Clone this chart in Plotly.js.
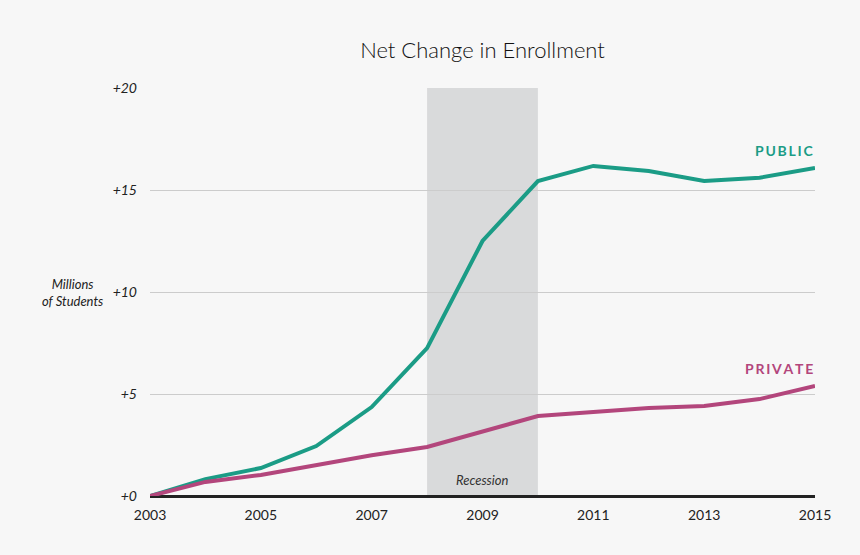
<!DOCTYPE html>
<html>
<head>
<meta charset="utf-8">
<script src="https://cdn.plot.ly/plotly-3.0.1.min.js"></script>
<style>html,body{margin:0;padding:0;background:#f7f7f7;}</style>
</head>
<body>
<div id="chart" style="width:860px;height:555px;"></div>
<script>
const years = [2003, 2004, 2005, 2006, 2007, 2008, 2009, 2010, 2011, 2012, 2013, 2014, 2015];
const publicVals = [0, 0.83, 1.37, 2.45, 4.36, 7.25, 12.5, 15.44, 16.18, 15.93, 15.44, 15.6, 16.08];
const privateVals = [0, 0.69, 1.03, 1.52, 2.0, 2.4, 3.14, 3.92, 4.12, 4.31, 4.41, 4.75, 5.39];
const xTicks = [2003, 2005, 2007, 2009, 2011, 2013, 2015];
const yTicks = [0, 5, 10, 15, 20];
const yTickLabels = ['+0', '+5', '+10', '+15', '+20'];
const recession = [2008, 2010];

const font = 'Lato, "Open Sans", sans-serif';
const teal = '#1b9c86';
const magenta = '#b3467c';

const traces = [
  {x: years, y: publicVals, type: 'scatter', mode: 'lines', line: {color: teal, width: 4}, cliponaxis: false, hoverinfo: 'skip'},
  {x: years, y: privateVals, type: 'scatter', mode: 'lines', line: {color: magenta, width: 4}, cliponaxis: false, hoverinfo: 'skip'}
];

const layout = {
  width: 860, height: 555,
  paper_bgcolor: '#f7f7f7', plot_bgcolor: '#f7f7f7',
  margin: {l: 150, r: 45, t: 88, b: 59},
  showlegend: false,
  title: {text: 'Net Change in Enrollment', font: {family: font, size: 22, color: '#111', weight: 300}, x: 0.5, xref: 'paper', xanchor: 'center', y: 0.91, yref: 'container', yanchor: 'middle'},
  xaxis: {range: [2003, 2015], tickvals: xTicks, ticktext: xTicks.map(String), showgrid: false, zeroline: false, showline: false, ticks: '', tickfont: {family: font, size: 14, color: '#222'}, ticklabelstandoff: 9},
  yaxis: {range: [0, 20], tickvals: yTicks, ticktext: yTickLabels, showgrid: true, gridcolor: '#cccccc', gridwidth: 1, zeroline: true, zerolinecolor: '#222', zerolinewidth: 3, showline: false, ticks: '', tickfont: {family: font, size: 14, color: '#222', style: 'italic'}, ticklabelstandoff: 12},
  shapes: [
    {type: 'rect', xref: 'x', yref: 'y', x0: recession[0], x1: recession[1], y0: 0, y1: 20, fillcolor: '#d9dadb', line: {width: 0}, layer: 'below'}
  ],
  annotations: [
    {x: 2015, y: 16.96, xref: 'x', yref: 'y', text: '<b>P\u2009U\u2009B\u2009L\u2009I\u2009C</b>', showarrow: false, xanchor: 'right', yanchor: 'middle', font: {family: font, size: 14, color: teal}},
    {x: 2015, y: 6.23, xref: 'x', yref: 'y', text: '<b>P\u2009R\u2009I\u2009V\u2009A\u2009T\u2009E</b>', showarrow: false, xanchor: 'right', yanchor: 'middle', font: {family: font, size: 14, color: magenta}},
    {x: 2009, y: 0.8, xref: 'x', yref: 'y', text: '<i>Recession</i>', showarrow: false, xanchor: 'center', yanchor: 'middle', font: {family: font, size: 13, color: '#333'}},
    {x: (72 - 150) / 665, y: 10.0, xref: 'x domain', yref: 'y', text: '<i>Millions<br>of Students</i>', showarrow: false, xanchor: 'center', yanchor: 'middle', font: {family: font, size: 13, color: '#222'}}
  ]
};

Plotly.newPlot('chart', traces, layout, {displayModeBar: false, staticPlot: true});
</script>
</body>
</html>
